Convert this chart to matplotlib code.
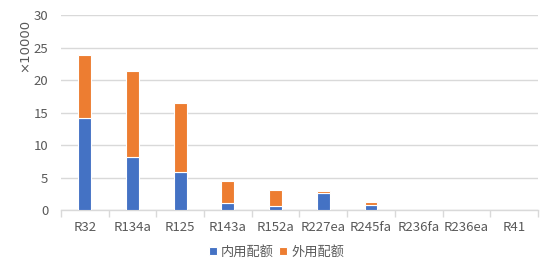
import matplotlib
matplotlib.use("Agg")
import matplotlib.pyplot as plt
import numpy as np

plt.rcParams['font.family'] = ['Noto Sans CJK SC', 'DejaVu Sans']

categories = ["R32", "R134a", "R125", "R143a", "R152a", "R227ea", "R245fa", "R236fa", "R236ea", "R41"]
inner = [14.1, 8.2, 5.9, 1.03, 0.66, 2.6, 0.77, 0, 0, 0]
outer = [9.75, 13.2, 10.56, 3.43, 2.42, 0.32, 0.46, 0, 0, 0]
series_names = ["内用配额", "外用配额"]
yticks = [0, 5, 10, 15, 20, 25, 30]

blue = "#4472C4"
orange = "#ED7D31"
txt = "#595959"

fig = plt.figure(figsize=(5.53, 2.74), dpi=100)
ax = fig.add_axes([0.110, 0.2336, 0.863, 0.7114])

x = np.arange(len(categories))
w = 0.27
ax.bar(x, inner, w, color=blue, edgecolor="white", linewidth=0.8, label=series_names[0], zorder=3)
ax.bar(x, outer, w, bottom=inner, color=orange, edgecolor="white", linewidth=0.8, label=series_names[1], zorder=3)

ax.set_xlim(-0.5, len(categories) - 0.5)
ax.set_ylim(0, 30)
ax.set_yticks(yticks)
ax.set_yticklabels([str(v) for v in yticks])
ax.yaxis.grid(True, color="#D9D9D9", linewidth=1, zorder=0)
ax.set_axisbelow(True)

for s in ["top", "right", "left"]:
    ax.spines[s].set_visible(False)
ax.spines["bottom"].set_color("#D9D9D9")
ax.spines["bottom"].set_linewidth(1)

ax.set_xticks(x)
ax.set_xticklabels(categories)
ax.set_xticks(np.arange(-0.5, len(categories), 1.0), minor=True)
ax.tick_params(axis="x", which="major", length=0, pad=8, labelsize=9.5, labelcolor=txt)
ax.tick_params(axis="x", which="minor", length=5, color="#D9D9D9", width=1)
ax.tick_params(axis="y", length=0, pad=9, labelsize=9.5, labelcolor=txt)

fig.text(0.045, 0.834, "×10000", rotation=90, ha="center", va="center", fontsize=9.5,
         color=txt, family=['DejaVu Sans'])

leg = fig.legend(loc="center", bbox_to_anchor=(0.5, 0.08), ncol=2, frameon=False,
                 fontsize=9.5, handlelength=0.6, handleheight=0.6, handletextpad=0.3,
                 columnspacing=0.4, labelcolor=txt)

fig.savefig("out.png", dpi=100)
